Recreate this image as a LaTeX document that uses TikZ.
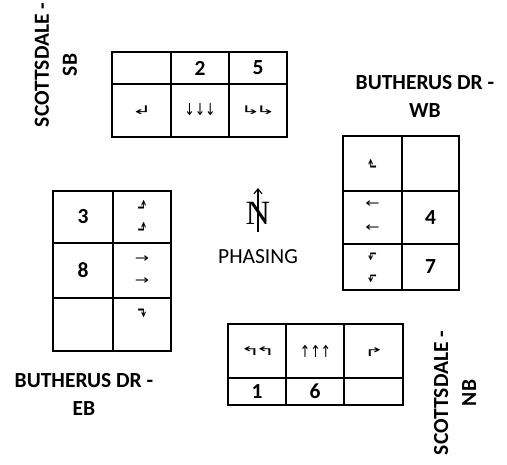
\documentclass[tikz,border=0pt]{standalone}
\usepackage{fontspec}
\setmainfont{Carlito}
\newfontfamily\arrowfont{DejaVu Sans}
\newfontfamily\nfont{Liberation Serif}
\usetikzlibrary{arrows.meta}
% arrow glyph helpers (scaled DejaVu Sans glyphs)
\newcommand\myV[1]{\scalebox{0.76}[1]{\fontsize{16.4}{16.4}\selectfont\arrowfont #1}}
\newcommand\myH[1]{\scalebox{1}[0.75]{\fontsize{17}{17}\selectfont\arrowfont #1}}
\newcommand\myT[1]{\scalebox{1.5}[0.74]{\fontsize{16}{16}\selectfont\arrowfont #1}}
\newcommand\myC[1]{\scalebox{0.75}[1.7]{\fontsize{14}{14}\selectfont\arrowfont #1}}
\newcommand\myD[1]{\scalebox{0.75}[1.5]{\fontsize{14}{14}\selectfont\arrowfont #1}}
\begin{document}
\begin{tikzpicture}[x=1pt,y=-1pt,
  outerbox/.style={line width=2.8pt},
  innerline/.style={line width=1.1pt},
  lbl/.style={font=\fontsize{21.5}{28}\selectfont\bfseries, align=center, inner sep=0pt},
  num/.style={font=\fontsize{21.5}{25}\selectfont\bfseries, inner sep=0pt},
  glyph/.style={anchor=base, inner sep=0pt},
]
\useasboundingbox (0,0) rectangle (507,465);

% ---- Scottsdale SB table
\draw[innerline] (171,52) -- (171,137) (229,52) -- (229,137) (112,84) -- (287,84);
\draw[outerbox] (112,52) rectangle (287,137);
\node[num] (sb2) at (200,68) {2};
\node[num] (sb5) at (258,68) {5};
\node[glyph] (sbr) at (142,114.3) {\myT{↲}};
\node[glyph] (sbt) at (200,116) {\myV{↓↓↓}};
\node[glyph] (sbl) at (258,114.3) {\myT{↳\kern-3.4pt↳}};
\node[lbl, rotate=90] (sblabel) at (56,65) {SCOTTSDALE -\\SB};

% ---- Butherus WB table
\draw[innerline] (402,136) -- (402,290) (343,191) -- (459,191) (343,244) -- (459,244);
\draw[outerbox] (343,136) rectangle (459,290);
\node[glyph] (wbr) at (372.5,174.4) {\myC{⬑}};
\node[glyph] (wbt1) at (372.5,207.1) {\myH{←}};
\node[glyph] (wbt2) at (372.5,231.1) {\myH{←}};
\node[glyph] (wbl1) at (372.5,260.2) {\myD{⬐}};
\node[glyph] (wbl2) at (372.5,282.2) {\myD{⬐}};
\node[num] (wb4) at (430.5,217.5) {4};
\node[num] (wb7) at (430.5,267) {7};
\node[lbl] (wblabel) at (425,96) {BUTHERUS DR -\\WB};

% ---- Butherus EB table
\draw[innerline] (113,191) -- (113,351) (53,243) -- (171,243) (53,298) -- (171,298);
\draw[outerbox] (53,191) rectangle (171,351);
\node[num] (eb3) at (83,217) {3};
\node[num] (eb8) at (83,270.5) {8};
\node[glyph] (ebl1) at (142,215.4) {\myC{⬏}};
\node[glyph] (ebl2) at (142,237.4) {\myC{⬏}};
\node[glyph] (ebt1) at (142,262.1) {\myH{→}};
\node[glyph] (ebt2) at (142,284.1) {\myH{→}};
\node[glyph] (ebr) at (142,317.8) {\myC{⬎}};
\node[lbl] (eblabel) at (84,394.5) {BUTHERUS DR -\\EB};

% ---- Scottsdale NB table
\draw[innerline] (286,324) -- (286,405) (344,324) -- (344,405) (228,378) -- (403,378);
\draw[outerbox] (228,324) rectangle (403,405);
\node[glyph] (nbl) at (258,355.3) {\myT{↰\kern-3.4pt↰}};
\node[glyph] (nbt) at (315.5,358) {\myV{↑↑↑}};
\node[glyph] (nbr) at (374,356.3) {\myT{↱}};
\node[num] (nb1) at (257,391.5) {1};
\node[num] (nb6) at (315,391.5) {6};
\node[lbl, rotate=90] (nblabel) at (455,393) {SCOTTSDALE -\\NB};

% ---- North arrow and phasing
\node[font=\fontsize{34}{34}\selectfont\nfont, inner sep=0pt] (north) at (258,213.5) {N};
\coordinate (ntail) at (258,232);
\coordinate (nhead) at (258,188);
\draw[line width=1.1pt, -{Straight Barb[length=5pt,width=8pt]}] (ntail) -- (nhead);
\node[font=\fontsize{21.5}{25}\selectfont, inner sep=0pt] (phasing) at (258,257) {PHASING};
\end{tikzpicture}
\end{document}
